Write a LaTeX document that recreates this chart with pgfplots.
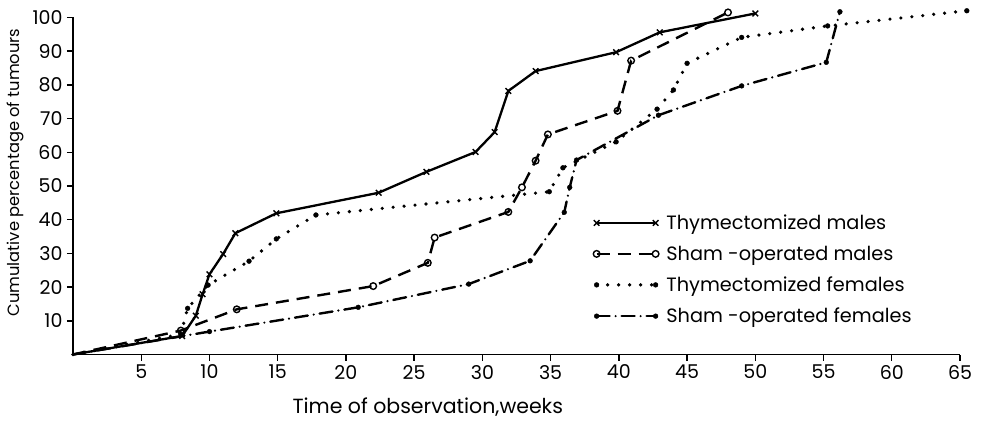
\documentclass[border=0pt]{standalone}
\usepackage{pgfplots}
\pgfplotsset{compat=1.18}
\usetikzlibrary{calc}
\usepackage{fontspec}
\setmainfont{Poppins}

% curves (weeks, cumulative %)
\pgfplotstableread{
x y
0 0
8.0 5.5
9.0 11.5
9.5 17.9
10.0 23.8
11.0 29.8
11.9 36.0
14.9 41.9
22.4 48.0
25.9 54.2
29.5 60.1
30.9 66.0
31.9 78.2
33.9 84.1
39.8 89.7
43.0 95.6
50.0 101.2
}\thymmales

\pgfplotstableread{
x y
0 0
7.9 7.1
12.0 13.4
22.0 20.3
26.0 27.2
26.5 34.7
31.9 42.3
32.9 49.6
33.9 57.5
34.8 65.3
39.9 72.3
40.9 87.2
48.0 101.5
}\shammales

\pgfplotstableread{
x y
0 0
7.9 6.0
8.4 13.7
9.9 20.6
12.9 27.7
14.9 34.3
17.8 41.4
34.9 48.3
35.9 55.4
39.8 63.1
42.8 72.8
44.0 78.5
45.0 86.4
49.0 94.1
55.3 97.5
65.5 102.0
}\thymfemales

\pgfplotstableread{
x y
0 0
10.0 6.8
20.9 14.0
29.0 20.9
33.5 27.8
36.0 42.2
36.4 49.6
36.9 57.7
42.9 71.0
49.0 79.7
55.2 86.7
56.2 101.7
}\shamfemales

\begin{document}
\begin{tikzpicture}
\begin{axis}[
    scale only axis,
    width=887pt, height=337pt,
    xmin=0, xmax=65, ymin=0, ymax=100,
    axis x line=bottom, axis y line=left,
    axis line style={-, line width=1.6pt},
    xtick={5,10,...,65}, ytick={10,20,...,100},
    tick align=outside,
    major tick length=6pt,
    tick style={line width=1.4pt, black},
    /pgf/number format/assume math mode=true,
    tick label style={font=\fontsize{19}{22}\selectfont},
    xticklabel style={yshift=-1pt},
    yticklabel style={xshift=-1pt},
    every axis x label/.style={at={(rel axis cs:0.4,0)}, yshift=-53pt, anchor=center,
        font=\fontsize{20.5}{24}\selectfont},
    every axis y label/.style={at={(rel axis cs:0,0.54)}, xshift=-58pt, rotate=90, anchor=center,
        font=\fontsize{16.3}{19}\selectfont},
    xlabel={Time of observation,weeks},
    ylabel={Cumulative percentage of tumours},
    clip=false,
    legend image code/.code={\draw[#1, mark phase=1] plot coordinates {(0pt,0pt) (59pt,0pt)};
        \path (66pt,0pt);},
    legend style={at={(0.583,0.427)}, anchor=north west, draw=none, fill=none,
        font=\fontsize{19.3}{22}\selectfont, row sep=11pt},
    legend cell align=left,
]
\addplot[black, line width=2.3pt, mark=x, mark size=4pt, mark phase=2,
    mark options={solid, line width=1.4pt}] table {\thymmales};
\addlegendentry{Thymectomized males}
\addplot[black, line width=2.4pt, dash pattern=on 13pt off 8pt, mark=o, mark size=3.3pt, mark phase=2,
    mark options={solid, line width=1.4pt, fill=white}] table {\shammales};
\addlegendentry{Sham -operated males}
\addplot[black, line width=3.6pt, line cap=round, dash pattern=on 0pt off 11pt,
    mark=*, mark size=2.4pt, mark phase=2, mark options={solid, line width=0.4pt}] table {\thymfemales};
\addlegendentry{Thymectomized females}
\addplot[black, line width=2.4pt, line cap=round, dash pattern=on 13pt off 6pt on 0pt off 6pt,
    mark=*, mark size=2.4pt, mark phase=2, mark options={solid, line width=0.4pt}] table {\shamfemales};
\addlegendentry{Sham -operated females}
\end{axis}
\path[use as bounding box] ($(current axis.south west)+(-73pt,-62.5pt)$)
    rectangle ($(current axis.north east)+(22pt,17.5pt)$);
\end{tikzpicture}
\end{document}
